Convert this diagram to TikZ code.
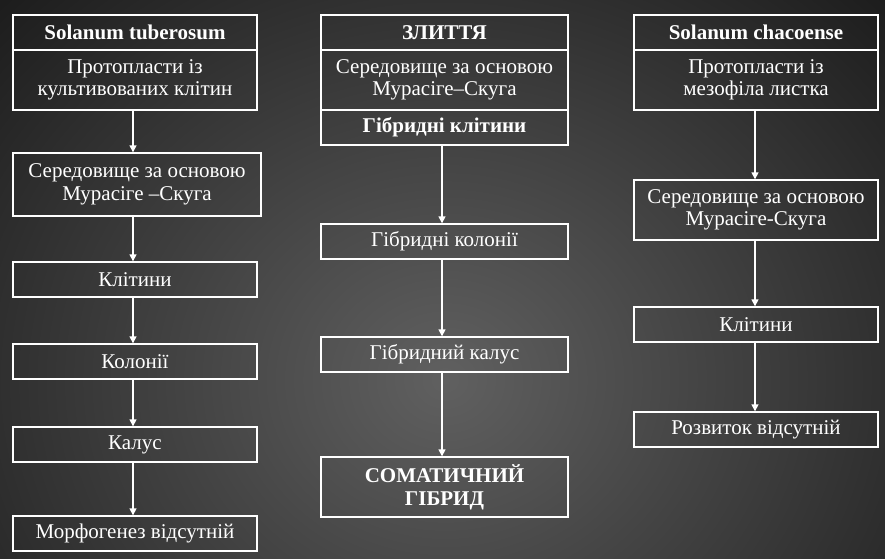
\documentclass[tikz,border=0pt]{standalone}
\usepackage{fontspec}
\setmainfont{Liberation Serif}
\usetikzlibrary{arrows.meta}
\definecolor{bgmid}{RGB}{96,96,96}
\begin{document}
\begin{tikzpicture}[x=1pt,y=-1pt,
  box/.style={draw=white, line width=1.4pt, text=white, align=center, inner sep=0pt,
    font=\fontsize{21}{22.5}\selectfont, minimum width=244pt},
  hdr/.style={box, font=\fontsize{21}{23}\selectfont\bfseries},
  arr/.style={draw=white, line width=1.4pt, -{Triangle[width=7pt,length=7pt]}}]
\useasboundingbox (0,0) rectangle (885,558);
\begin{scope}
\clip (0,0) rectangle (885,558);
\fill[black] (0,0) rectangle (885,558);
\shade[inner color=bgmid, outer color=black] (445,380) ellipse [x radius=880, y radius=780];
\end{scope}
% left column
\node[hdr, minimum height=35pt] (lt1) at (135,32.5) {Solanum tuberosum};
\node[box, minimum height=60pt] (lt2) at (135,80) {Протопласти із\\культивованих клітин};
\node[box, minimum width=248pt, minimum height=63pt] (l3) at (137,184.5) {Середовище за основою\\Мурасіге –Скуга};
\node[box, minimum height=35pt] (l4) at (135,279.5) {Клітини};
\node[box, minimum height=35pt] (l5) at (135,361.5) {Колонії};
\node[box, minimum height=35pt] (l6) at (135,444.5) {Калус};
\node[box, minimum height=35pt] (l7) at (135,533.5) {Морфогенез відсутній};
% middle column
\node[hdr, minimum width=247pt, minimum height=35pt] (m1) at (444.5,32.5) {ЗЛИТТЯ};
\node[box, minimum width=247pt, minimum height=60pt] (m2) at (444.5,80) {Середовище за основою\\Мурасіге–Скуга};
\node[hdr, minimum width=247pt, minimum height=35pt] (m3) at (444.5,127.5) {Гібридні клітини};
\node[box, minimum width=247pt, minimum height=35pt] (m4) at (444.5,241.5) {Гібридні колонії};
\node[box, minimum width=247pt, minimum height=35pt] (m5) at (444.5,354.5) {Гібридний калус};
\node[hdr, minimum width=247pt, minimum height=60pt] (m6) at (444.5,487) {СОМАТИЧНИЙ\\ГІБРИД};
% right column
\node[hdr, minimum height=35pt] (r1) at (756,32.5) {Solanum chacoense};
\node[box, minimum height=60pt] (r2) at (756,80) {Протопласти із\\мезофіла листка};
\node[box, minimum height=60pt] (r3) at (756,210) {Середовище за основою\\Мурасіге-Скуга};
\node[box, minimum height=35pt] (r4) at (756,324.5) {Клітини};
\node[box, minimum height=35pt] (r5) at (756,429.5) {Розвиток відсутній};
% arrows
\draw[arr] ([xshift=-2pt]lt2.south) -- ([xshift=-2pt]lt2.south |- l3.north);
\draw[arr] ([xshift=-4pt]l3.south) -- ([xshift=-4pt]l3.south |- l4.north);
\draw[arr] ([xshift=-2pt]l4.south) -- ([xshift=-2pt]l4.south |- l5.north);
\draw[arr] ([xshift=-2pt]l5.south) -- ([xshift=-2pt]l5.south |- l6.north);
\draw[arr] ([xshift=-2pt]l6.south) -- ([xshift=-2pt]l6.south |- l7.north);
\draw[arr] ([xshift=-2.5pt]m3.south) -- ([xshift=-2.5pt]m3.south |- m4.north);
\draw[arr] ([xshift=-2.5pt]m4.south) -- ([xshift=-2.5pt]m4.south |- m5.north);
\draw[arr] ([xshift=-2.5pt]m5.south) -- ([xshift=-2.5pt]m5.south |- m6.north);
\draw[arr] ([xshift=-1pt]r2.south) -- ([xshift=-1pt]r2.south |- r3.north);
\draw[arr] ([xshift=-1pt]r3.south) -- ([xshift=-1pt]r3.south |- r4.north);
\draw[arr] ([xshift=-1pt]r4.south) -- ([xshift=-1pt]r4.south |- r5.north);
\end{tikzpicture}
\end{document}
